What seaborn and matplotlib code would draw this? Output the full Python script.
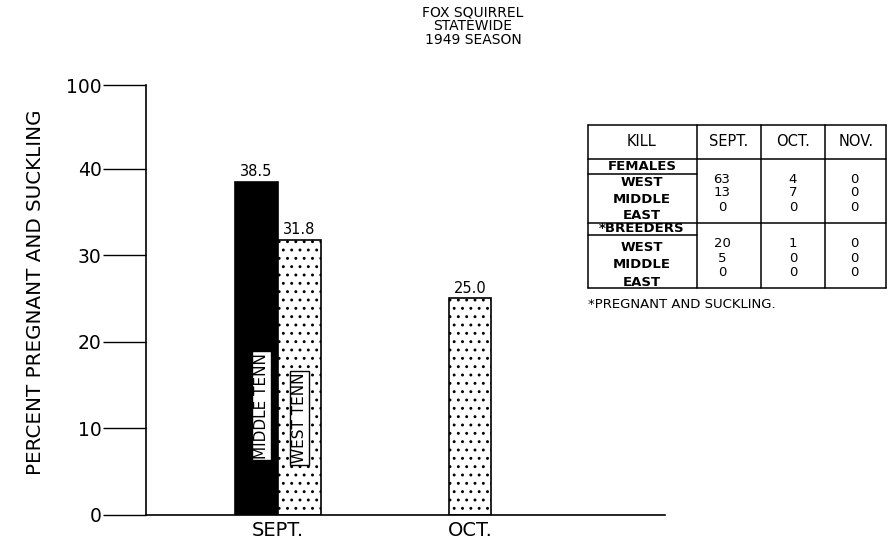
import matplotlib
matplotlib.use("Agg")
import matplotlib.pyplot as plt
from matplotlib.lines import Line2D
import seaborn as sns
import pandas as pd

# ---------------- data ----------------
months = ["SEPT.", "OCT."]
regions = ["MIDDLE TENN", "WEST TENN"]
sept_pct = [38.5, 31.8]          # Middle Tenn, West Tenn
oct_region = ["WEST TENN"]
oct_pct = [25.0]
ytick_values = [0, 10, 20, 30, 40, 100]
title_lines = ["FOX SQUIRREL", "STATEWIDE", "1949 SEASON"]

table_header = ["KILL", "SEPT.", "OCT.", "NOV."]
areas = ["WEST", "MIDDLE", "EAST"]
females_sept = [63, 13, 0]
females_oct = [4, 7, 0]
females_nov = [0, 0, 0]
breeders_sept = [20, 5, 0]
breeders_oct = [1, 0, 0]
breeders_nov = [0, 0, 0]
footnote = "*PREGNANT AND SUCKLING."

# ---------------- setup ----------------
sns.set_theme(style="white")
plt.rcParams["font.family"] = ["DejaVu Sans"]
plt.rcParams["text.color"] = "black"
plt.rcParams["axes.labelcolor"] = "black"
plt.rcParams["xtick.color"] = "black"
plt.rcParams["ytick.color"] = "black"
plt.rcParams["hatch.linewidth"] = 0.9
plt.rcParams["hatch.color"] = "black"

W, H = 889, 545
fig = plt.figure(figsize=(W / 100, H / 100), dpi=100)
ax = fig.add_axes([146 / W, 30 / H, (665 - 146) / W, 430 / H])

# broken axis: 100 drawn just above 40
BREAK_POS = 49.65
ytick_pos = [v if v <= 40 else BREAK_POS for v in ytick_values]

df_sept = pd.DataFrame({"month": ["SEPT."] * len(regions), "region": regions, "pct": sept_pct})
df_oct = pd.DataFrame({"month": ["OCT."] * len(oct_region), "region": oct_region, "pct": oct_pct})

sns.barplot(data=df_sept, x="month", y="pct", hue="region", order=months,
            hue_order=regions, palette={"MIDDLE TENN": "black", "WEST TENN": "white"},
            width=0.45, edgecolor="black", linewidth=1.2, legend=False, ax=ax)
n_sept = len(ax.patches)
sns.barplot(data=df_oct, x="month", y="pct", order=months, color="white",
            width=0.22, edgecolor="black", linewidth=1.2, ax=ax)

for p in ax.patches:
    if p.get_facecolor()[0] > 0.5:
        p.set_hatch("..")

for c in ax.containers:
    ax.bar_label(c, fmt="%.1f", padding=2, fontsize=10.5, color="black")

# labels inside SEPT bars
sept_patches = ax.patches[:n_sept]
for p, lab in zip(sept_patches, regions):
    cx = p.get_x() + p.get_width() * (0.62 if lab == "MIDDLE TENN" else 0.5)
    cy = 12.6 if lab == "MIDDLE TENN" else 11.2
    ax.text(cx, cy, lab, rotation=90, ha="center", va="center", fontsize=11,
            color="black",
            bbox=dict(facecolor="white", edgecolor="black", pad=1.2, linewidth=1))

ax.set_xlim(-0.6875, 2.016)
ax.set_ylim(0, BREAK_POS)
ax.set_yticks(ytick_pos)
ax.set_yticklabels([str(v) for v in ytick_values])
ax.tick_params(axis="y", left=True, direction="out", length=31, width=1, pad=1,
               labelsize=13.5, colors="black")
ax.tick_params(axis="x", bottom=False, length=0, pad=4, labelsize=14, colors="black")
ax.set_xlabel("")
ax.set_ylabel("")
sns.despine(ax=ax)
for s in ["left", "bottom"]:
    ax.spines[s].set_color("black")
    ax.spines[s].set_linewidth(1.2)

# y label
fig.text(36 / W, 1 - 292 / H, "PERCENT PREGNANT AND SUCKLING", rotation=90,
         ha="center", va="center", fontsize=14.3, color="black")

# title
for i, line in enumerate(title_lines):
    fig.text(473 / W, 1 - (12 + 14 * i) / H, line, ha="center", va="center",
             fontsize=10, color="black")


# ---------------- table ----------------
def T(x, y, s, **kw):
    kw.setdefault("ha", "center")
    kw.setdefault("va", "center")
    kw.setdefault("fontsize", 9)
    kw.setdefault("color", "black")
    fig.text(x / W, 1 - y / H, s, **kw)


def L(x0, y0, x1, y1, lw=1.1):
    fig.add_artist(Line2D([x0 / W, x1 / W], [1 - y0 / H, 1 - y1 / H], color="black", lw=lw))


left, right, top, bottom = 588, 886, 125, 288
col_x = [697, 761, 825]
L(left, top, right, top)
L(left, bottom, right, bottom)
L(left, top, left, bottom)
L(right, top, right, bottom)
for cx in col_x:
    L(cx, top, cx, bottom)
L(left, 159, right, 159)
L(left, 174, col_x[0], 174)
L(left, 223, right, 223)
L(left, 235, col_x[0], 235)

header_x = [642, 729, 793, 856]
for hx, h in zip(header_x, table_header):
    T(hx, 142, h, fontsize=10.5)

T(642, 166, "FEMALES", fontsize=9.5, fontweight="bold")
T(642, 229, "*BREEDERS", fontsize=9.5, fontweight="bold")
label_y_f = [182, 199, 215]
label_y_b = [247, 264, 282]
for a, yf, yb in zip(areas, label_y_f, label_y_b):
    T(642, yf, a, fontsize=9.5, fontweight="bold")
    T(642, yb, a, fontsize=9.5, fontweight="bold")

num_x = [722, 793, 854]
num_y_f = [179, 193, 207]
num_y_b = [243, 258, 273]
for colx, vals in zip(num_x, [females_sept, females_oct, females_nov]):
    for y, v in zip(num_y_f, vals):
        T(colx, y, str(v), fontsize=9.5)
for colx, vals in zip(num_x, [breeders_sept, breeders_oct, breeders_nov]):
    for y, v in zip(num_y_b, vals):
        T(colx, y, str(v), fontsize=9.5)

T(588, 304, footnote, ha="left", fontsize=9.5)

fig.savefig("out.png", dpi=100)
